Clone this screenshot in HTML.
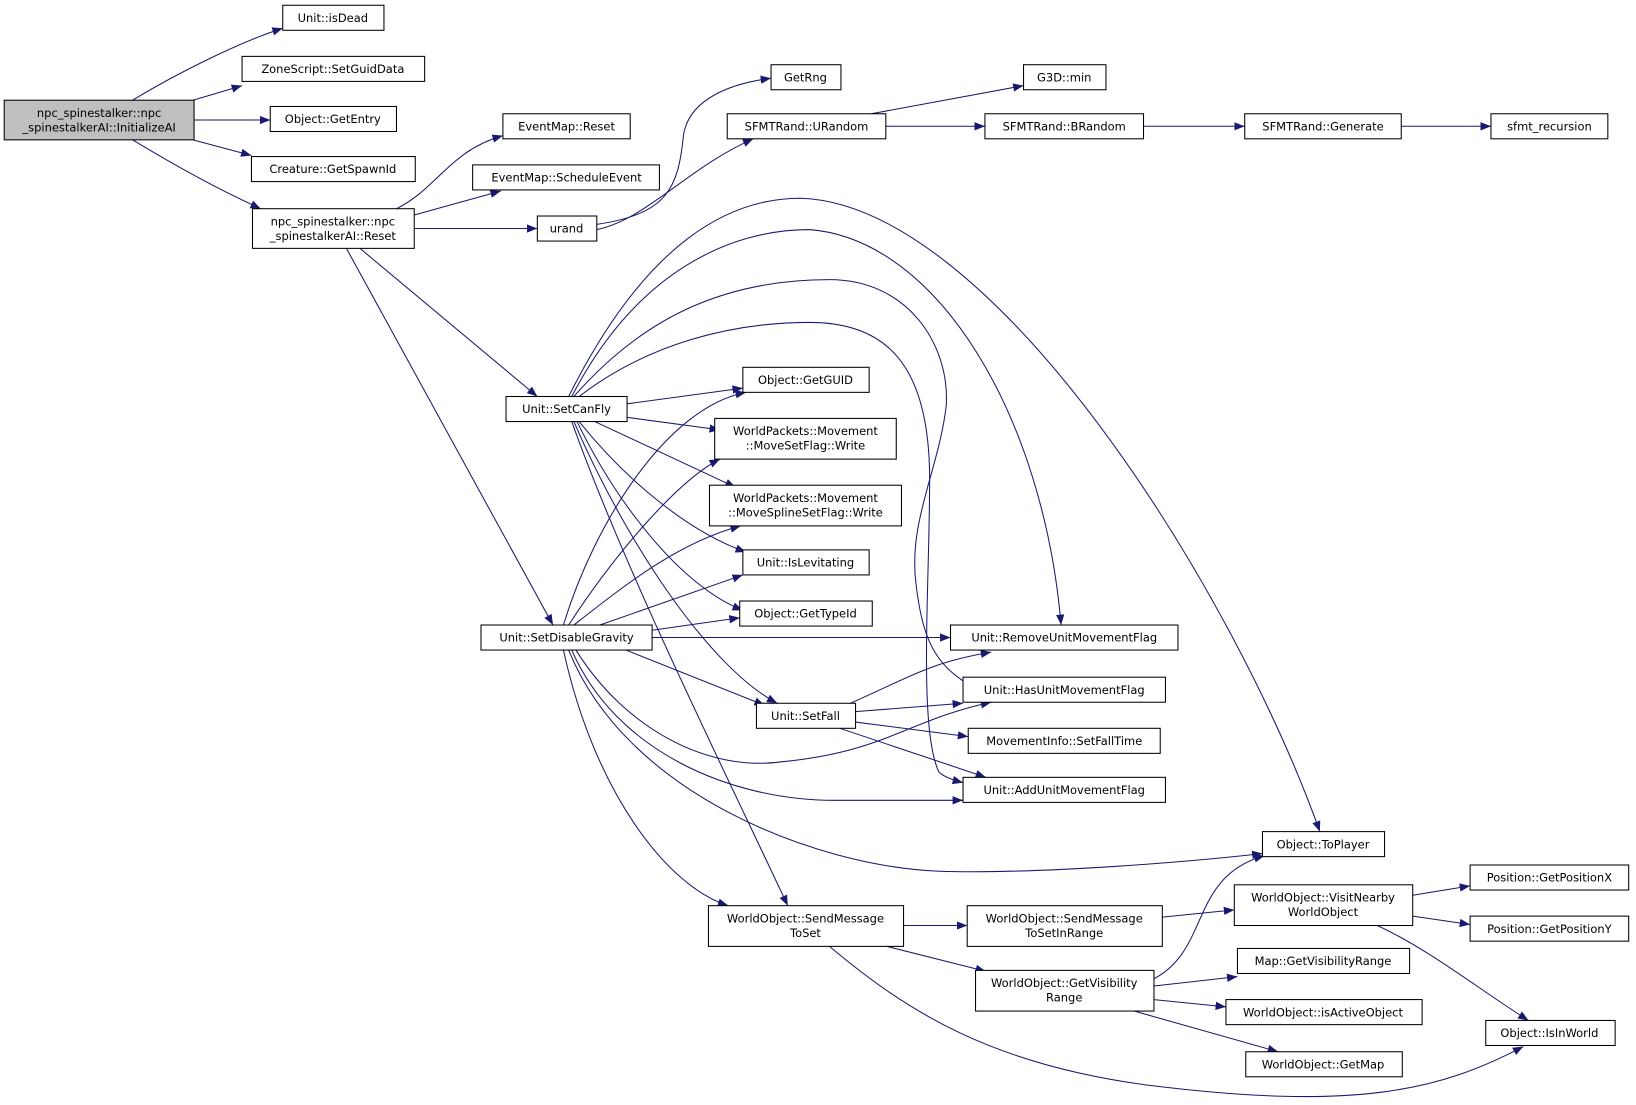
<!DOCTYPE html>
<html><head><meta charset="utf-8"><style>
html,body{margin:0;padding:0;background:#fff;width:1636px;height:1105px;overflow:hidden}
svg{display:block}
text{font-family:"DejaVu Sans","Liberation Sans",sans-serif;font-size:11px;fill:#000;text-anchor:middle}
.n{fill:#fff;stroke:#000;stroke-width:1}
.e{fill:none;stroke:#191970;stroke-width:1}
</style></head><body>
<svg width="1636" height="1105" viewBox="0 0 1568 1059" xmlns="http://www.w3.org/2000/svg">
<defs><marker id="a" markerWidth="10" markerHeight="8" refX="10" refY="4" orient="auto" markerUnits="userSpaceOnUse"><path d="M0,0 L10,4 L0,8 z" fill="#191970"/></marker></defs>
<g class="e" marker-end="url(#a)">
<path d="M127,96 C170,70 230,40 271,27"/>
<path d="M185,96 L232,82"/>
<path d="M186,115 L259,115"/>
<path d="M185,134 L241,149"/>
<path d="M127,134 C170,160 210,182 250,200"/>
<path d="M380,200 C420,180 430,145 482,130"/>
<path d="M397,206 L480,183"/>
<path d="M397,219 L515,219"/>
<path d="M345,238 L515,380"/>
<path d="M332,238 L530,599"/>
<path d="M572,215 C640,205 650,180 655,130 C660,95 700,80 739,75"/>
<path d="M572,220 C620,210 660,160 722,133"/>
<path d="M835,109 L981,82"/>
<path d="M849,121 L944,121"/>
<path d="M1096,121 L1193,121"/>
<path d="M1343,121 L1429,121"/>
<path d="M545,380 C620,230 700,190 767,190 C950,195 1180,560 1265,797"/>
<path d="M548,380 C610,260 700,220 776,220 C900,230 1000,400 1017,599"/>
<path d="M550,380 C620,300 700,268 795,268 C870,268 910,330 907,388 C900,450 870,500 878,560 C885,620 900,640 935,660"/>
<path d="M555,380 C620,330 700,309 776,309 C850,309 891,350 891,460 C891,560 880,700 900,740 C905,745 915,748 923,750"/>
<path d="M601,387 L712,372"/>
<path d="M601,400 L690,412"/>
<path d="M570,404 L705,467"/>
<path d="M555,404 C600,460 660,510 715,529"/>
<path d="M553,404 C590,480 650,560 712,585"/>
<path d="M550,404 C600,520 680,640 745,674"/>
<path d="M548,404 C600,550 700,750 755,868"/>
<path d="M540,599 C570,500 640,390 715,376"/>
<path d="M545,599 C590,530 650,460 690,440"/>
<path d="M550,599 C600,560 650,520 710,504"/>
<path d="M575,599 L712,551"/>
<path d="M625,604 L709,592"/>
<path d="M625,611 L911,611"/>
<path d="M600,623 L733,676"/>
<path d="M552,623 C600,700 680,740 750,730 C850,720 870,690 950,673"/>
<path d="M548,623 C590,720 700,767 800,767 L923,767"/>
<path d="M545,623 C600,760 780,830 900,835 C1000,838 1150,825 1210,818"/>
<path d="M540,623 C570,760 640,850 698,868"/>
<path d="M815,674 C870,650 890,635 950,625"/>
<path d="M820,682 L923,674"/>
<path d="M820,692 L928,706"/>
<path d="M805,698 L945,745"/>
<path d="M866,887 L927,887"/>
<path d="M850,907 L945,931"/>
<path d="M795,907 C870,970 950,1020 1100,1040 C1300,1065 1380,1045 1460,1003"/>
<path d="M1114,879 L1183,872"/>
<path d="M1354,858 L1409,849"/>
<path d="M1354,878 L1409,886"/>
<path d="M1320,887 C1370,910 1420,950 1465,978"/>
<path d="M1106,938 C1160,910 1140,840 1212,820"/>
<path d="M1106,945 L1186,936"/>
<path d="M1106,958 L1175,965"/>
<path d="M1087,969 L1225,1008"/>
</g>
<rect x="4" y="96" width="182" height="38" fill="#bfbfbf" stroke="#000"/>
<text x="95" y="112">npc_spinestalker::npc</text><text x="95" y="126">_spinestalkerAI::InitializeAI</text>
<rect class="n" x="271" y="5" width="97" height="24"/><text x="319" y="21">Unit::isDead</text>
<rect class="n" x="232" y="54" width="175" height="24"/><text x="319" y="70">ZoneScript::SetGuidData</text>
<rect class="n" x="259" y="102" width="121" height="24"/><text x="319" y="118">Object::GetEntry</text>
<rect class="n" x="241" y="150" width="157" height="24"/><text x="319" y="166">Creature::GetSpawnId</text>
<rect class="n" x="242" y="200" width="155" height="38"/><text x="319" y="216">npc_spinestalker::npc</text><text x="319" y="230">_spinestalkerAI::Reset</text>
<rect class="n" x="482" y="109" width="122" height="24"/><text x="543" y="125">EventMap::Reset</text>
<rect class="n" x="453" y="158" width="179" height="24"/><text x="543" y="174">EventMap::ScheduleEvent</text>
<rect class="n" x="515" y="207" width="57" height="24"/><text x="543" y="223">urand</text>
<rect class="n" x="739" y="62" width="67" height="24"/><text x="772" y="78">GetRng</text>
<rect class="n" x="697" y="109" width="152" height="24"/><text x="773" y="125">SFMTRand::URandom</text>
<rect class="n" x="981" y="62" width="79" height="24"/><text x="1020" y="78">G3D::min</text>
<rect class="n" x="944" y="109" width="152" height="24"/><text x="1020" y="125">SFMTRand::BRandom</text>
<rect class="n" x="1193" y="109" width="150" height="24"/><text x="1268" y="125">SFMTRand::Generate</text>
<rect class="n" x="1429" y="109" width="112" height="24"/><text x="1485" y="125">sfmt_recursion</text>
<rect class="n" x="485" y="380" width="116" height="24"/><text x="543" y="396">Unit::SetCanFly</text>
<rect class="n" x="712" y="352" width="121" height="24"/><text x="772" y="368">Object::GetGUID</text>
<rect class="n" x="685" y="401" width="174" height="39"/><text x="772" y="417">WorldPackets::Movement</text><text x="772" y="431">::MoveSetFlag::Write</text>
<rect class="n" x="680" y="465" width="184" height="39"/><text x="772" y="481">WorldPackets::Movement</text><text x="772" y="495">::MoveSplineSetFlag::Write</text>
<rect class="n" x="712" y="527" width="121" height="24"/><text x="772" y="543">Unit::IsLevitating</text>
<rect class="n" x="709" y="576" width="127" height="24"/><text x="772" y="592">Object::GetTypeId</text>
<rect class="n" x="461" y="599" width="164" height="24"/><text x="543" y="615">Unit::SetDisableGravity</text>
<rect class="n" x="911" y="599" width="218" height="24"/><text x="1020" y="615">Unit::RemoveUnitMovementFlag</text>
<rect class="n" x="923" y="649" width="194" height="24"/><text x="1020" y="665">Unit::HasUnitMovementFlag</text>
<rect class="n" x="725" y="674" width="95" height="24"/><text x="772" y="690">Unit::SetFall</text>
<rect class="n" x="928" y="698" width="184" height="24"/><text x="1020" y="714">MovementInfo::SetFallTime</text>
<rect class="n" x="923" y="745" width="194" height="24"/><text x="1020" y="761">Unit::AddUnitMovementFlag</text>
<rect class="n" x="1210" y="797" width="117" height="24"/><text x="1268" y="813">Object::ToPlayer</text>
<rect class="n" x="679" y="868" width="187" height="39"/><text x="772" y="884">WorldObject::SendMessage</text><text x="772" y="898">ToSet</text>
<rect class="n" x="927" y="868" width="187" height="39"/><text x="1020" y="884">WorldObject::SendMessage</text><text x="1020" y="898">ToSetInRange</text>
<rect class="n" x="1183" y="848" width="171" height="39"/><text x="1268" y="864">WorldObject::VisitNearby</text><text x="1268" y="878">WorldObject</text>
<rect class="n" x="1409" y="829" width="152" height="24"/><text x="1485" y="845">Position::GetPositionX</text>
<rect class="n" x="1409" y="878" width="152" height="24"/><text x="1485" y="894">Position::GetPositionY</text>
<rect class="n" x="1186" y="909" width="165" height="24"/><text x="1268" y="925">Map::GetVisibilityRange</text>
<rect class="n" x="935" y="930" width="171" height="39"/><text x="1020" y="946">WorldObject::GetVisibility</text><text x="1020" y="960">Range</text>
<rect class="n" x="1175" y="958" width="188" height="24"/><text x="1268" y="974">WorldObject::isActiveObject</text>
<rect class="n" x="1194" y="1008" width="150" height="24"/><text x="1268" y="1024">WorldObject::GetMap</text>
<rect class="n" x="1424" y="978" width="124" height="24"/><text x="1485" y="994">Object::IsInWorld</text>
</svg>
</body></html>
